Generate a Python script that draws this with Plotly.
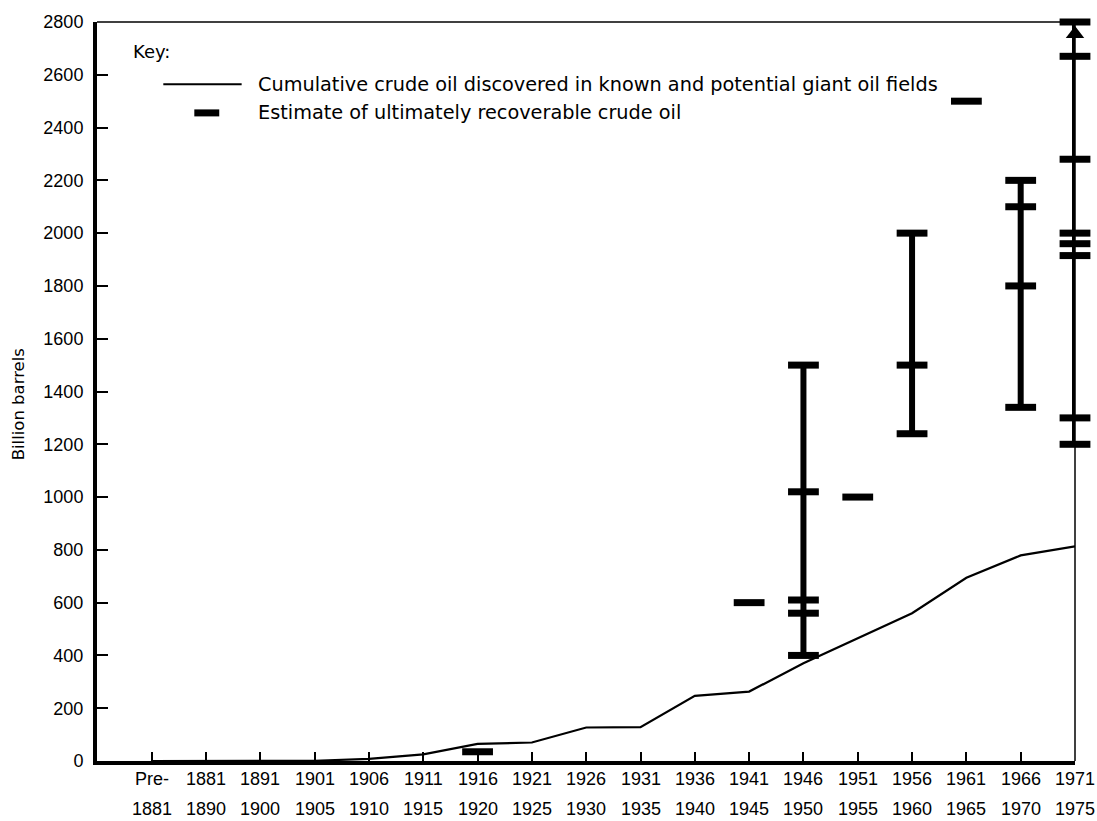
import plotly.graph_objects as go

# Discovery periods (two-line labels along the x axis)
period_start = ["Pre-", "1881", "1891", "1901", "1906", "1911", "1916", "1921", "1926",
                "1931", "1936", "1941", "1946", "1951", "1956", "1961", "1966", "1971"]
period_end = ["1881", "1890", "1900", "1905", "1910", "1915", "1920", "1925", "1930",
              "1935", "1940", "1945", "1950", "1955", "1960", "1965", "1970", "1975"]

# Cumulative crude oil discovered in known and potential giant fields (billion barrels)
cumulative_discovered = [0, 0, 0, 1, 8, 25, 65, 70, 127, 128, 247, 263,
                         370, 465, 560, 694, 779, 813]

# Estimates of ultimately recoverable crude oil, grouped by the period they were made
estimate_periods = ["1916", "1941", "1946", "1951", "1956", "1961", "1966", "1971"]
estimate_values = [
    [35],
    [600],
    [400, 560, 610, 1020, 1500],
    [1000],
    [1240, 1500, 2000],
    [2500],
    [1340, 1800, 2100, 2200],
    [1200, 1300, 1915, 1960, 2000, 2280, 2670, 2800],
]
# Periods whose range runs on past the top of the scale
open_ended_periods = ["1971"]

y_ticks = list(range(0, 2801, 200))

key_title = "Key:"
key_line_label = "Cumulative crude oil discovered in known and potential giant oil fields"
key_dash_label = "Estimate of ultimately recoverable crude oil"
y_title = "Billion barrels"

TICK_FONT = dict(family="Liberation Sans, Arial, sans-serif", size=18, color="black")
TEXT_FONT = dict(family="DejaVu Sans, sans-serif", size=19.3, color="black")
INK = "black"

x_index = list(range(len(period_start)))

fig = go.Figure()

# Cumulative discoveries
fig.add_trace(go.Scatter(
    x=x_index, y=cumulative_discovered, mode="lines",
    line=dict(color=INK, width=2.2), cliponaxis=False, showlegend=False,
))

# Vertical range bars between the lowest and highest estimate of each period
for period, vals in zip(estimate_periods, estimate_values):
    if len(vals) < 2:
        continue
    xi = period_start.index(period)
    fig.add_trace(go.Scatter(
        x=[xi, xi], y=[min(vals), max(vals)], mode="lines",
        line=dict(color=INK, width=6), cliponaxis=False, showlegend=False,
    ))

# Individual estimates as short horizontal dashes
est_x, est_y = [], []
for period, vals in zip(estimate_periods, estimate_values):
    xi = period_start.index(period)
    for v in vals:
        est_x.append(xi)
        est_y.append(v)
fig.add_trace(go.Scatter(
    x=est_x, y=est_y, mode="markers",
    marker=dict(symbol="line-ew", size=22, color=INK, line=dict(color=INK, width=7)),
    cliponaxis=False, showlegend=False,
))

# Arrowheads on open-ended ranges
arr_x, arr_y = [], []
for period in open_ended_periods:
    vals = estimate_values[estimate_periods.index(period)]
    arr_x.append(period_start.index(period))
    arr_y.append(max(vals) - 45)
fig.add_trace(go.Scatter(
    x=arr_x, y=arr_y, mode="markers",
    marker=dict(symbol="triangle-up", size=16, color=INK, line=dict(width=0)),
    cliponaxis=False, showlegend=False,
))

annotations = []
# Two-row period labels under the axis
for xi, (a, b) in enumerate(zip(period_start, period_end)):
    annotations.append(dict(x=xi, y=0, xref="x", yref="paper", text=a, showarrow=False,
                            xanchor="center", yanchor="middle", yshift=-18, font=TICK_FONT))
    annotations.append(dict(x=xi, y=0, xref="x", yref="paper", text=b, showarrow=False,
                            xanchor="center", yanchor="middle", yshift=-48, font=TICK_FONT))

# Vertical axis title
annotations.append(dict(x=-0.0808, y=0.4826, xref="paper", yref="paper", text=y_title,
                        textangle=-90, showarrow=False, xanchor="center", yanchor="middle",
                        font=dict(family="DejaVu Sans, sans-serif", size=16.5, color="black")))

# Key
annotations.append(dict(x=0.0345, y=0.960, xref="paper", yref="paper", text=key_title,
                        showarrow=False, xanchor="left", yanchor="middle",
                        font=dict(TEXT_FONT, size=18)))
annotations.append(dict(x=0.1626, y=0.9158, xref="paper", yref="paper", text=key_line_label,
                        showarrow=False, xanchor="left", yanchor="middle", font=TEXT_FONT))
annotations.append(dict(x=0.1626, y=0.877, xref="paper", yref="paper", text=key_dash_label,
                        showarrow=False, xanchor="left", yanchor="middle", font=TEXT_FONT))

shapes = [
    # key samples
    dict(type="line", xref="paper", yref="paper", x0=0.0678, x1=0.1479, y0=0.9158, y1=0.9158,
         line=dict(color=INK, width=2)),
    dict(type="line", xref="paper", yref="paper", x0=0.0995, x1=0.1250, y0=0.877, y1=0.877,
         line=dict(color=INK, width=7)),
    # top and right frame
    dict(type="line", xref="paper", yref="paper", x0=0, x1=1, y0=1, y1=1,
         line=dict(color=INK, width=1.5)),
    dict(type="line", xref="paper", yref="paper", x0=1, x1=1, y0=0, y1=1,
         line=dict(color=INK, width=1.5)),
]

fig.update_layout(
    width=1097, height=821,
    margin=dict(l=97, r=22, t=13, b=60),
    paper_bgcolor="white", plot_bgcolor="white",
    showlegend=False,
    annotations=annotations,
    shapes=shapes,
    xaxis=dict(
        range=[-1.007, 17.0], tickmode="array", tickvals=x_index,
        showticklabels=False, ticks="inside", ticklen=9, tickwidth=1.5, tickcolor=INK,
        showline=True, linewidth=4, linecolor=INK, showgrid=False, zeroline=False,
    ),
    yaxis=dict(
        range=[0, 2800], tickmode="array", tickvals=y_ticks,
        ticktext=[str(v) for v in y_ticks],
        ticks="inside", ticklen=11, tickwidth=1.5, tickcolor=INK,
        showline=True, linewidth=4, linecolor=INK, showgrid=False, zeroline=False,
        tickfont=TICK_FONT, ticklabelstandoff=6,
    ),
)

fig.write_html("out.html")
